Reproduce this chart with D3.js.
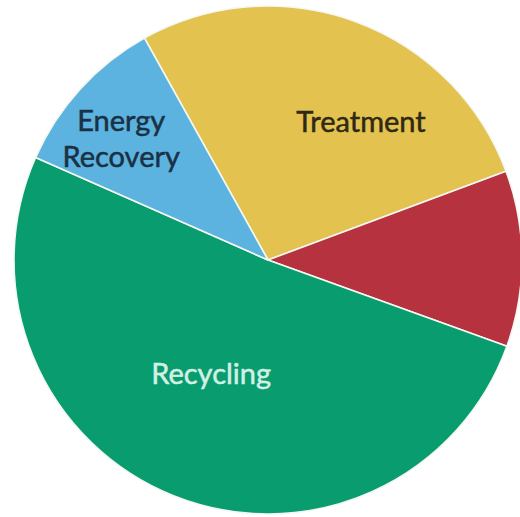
<!DOCTYPE html>
<html>
<head>
<meta charset="utf-8">
<script src="https://cdn.jsdelivr.net/npm/d3@7"></script>
<style>
  html, body { margin: 0; padding: 0; background: #ffffff; }
  svg { display: block; }
</style>
</head>
<body>
<svg id="chart" width="520" height="517"></svg>
<script>
// Waste management shares (percent)
const categories = ["Treatment", "Disposal", "Recycling", "Energy Recovery"];
const shares = [27.4, 11.2, 51.1, 10.3];
const labelLines = [["Treatment"], [], ["Recycling"], ["Energy", "Recovery"]];

const colors = ["#E4C250", "#B6323F", "#099C6F", "#5DB3DF"];
const textColors = ["#2e2914", "#ffffff", "#d3f0e4", "#1a3044"];

// label anchor: angle (deg, clockwise from 12 o'clock) and fraction of radius
const labelAnchor = {
  "Treatment": { angle: 34, r: 0.655 },
  "Recycling": { angle: 206.6, r: 0.5 },
  "Energy Recovery": { angle: 309.6, r: 0.75 }
};

const width = 520, height = 517;
const cx = 268, cy = 260, radius = 254;

const svg = d3.select("#chart");
const g = svg.append("g").attr("transform", `translate(${cx},${cy})`);

const data = categories.map((c, i) => ({ name: c, value: shares[i], i }));

const pie = d3.pie()
  .sort(null)
  .value(d => d.value)
  .startAngle(-29.1 * Math.PI / 180)
  .endAngle((360 - 29.1) * Math.PI / 180);

const arc = d3.arc().innerRadius(0).outerRadius(radius);

g.selectAll("path.slice")
  .data(pie(data))
  .join("path")
  .attr("class", "slice")
  .attr("d", arc)
  .attr("fill", d => colors[d.data.i])
  .attr("stroke", "#f4f8f2")
  .attr("stroke-width", 1.6)
  .attr("stroke-linejoin", "round");

// slice labels
const labelGroup = g.append("g")
  .attr("font-family", "Lato, 'Open Sans', sans-serif")
  .attr("font-size", 29)
  .attr("text-anchor", "middle");

data.forEach(d => {
  const lines = labelLines[d.i];
  const a = labelAnchor[d.name];
  if (!lines.length || !a) return;
  const rad = a.angle * Math.PI / 180;
  const x = Math.sin(rad) * a.r * radius;
  const y = -Math.cos(rad) * a.r * radius;
  const lh = 36;
  const t = labelGroup.append("text")
    .attr("x", x)
    .attr("y", y - (lines.length - 1) * lh / 2)
    .attr("dy", "0.35em")
    .attr("fill", textColors[d.i])
    .attr("stroke", textColors[d.i])
    .attr("stroke-width", 0.5);
  lines.forEach((ln, k) => {
    t.append("tspan")
      .attr("x", x)
      .attr("dy", k === 0 ? "0.35em" : lh)
      .text(ln);
  });
});
</script>
</body>
</html>
